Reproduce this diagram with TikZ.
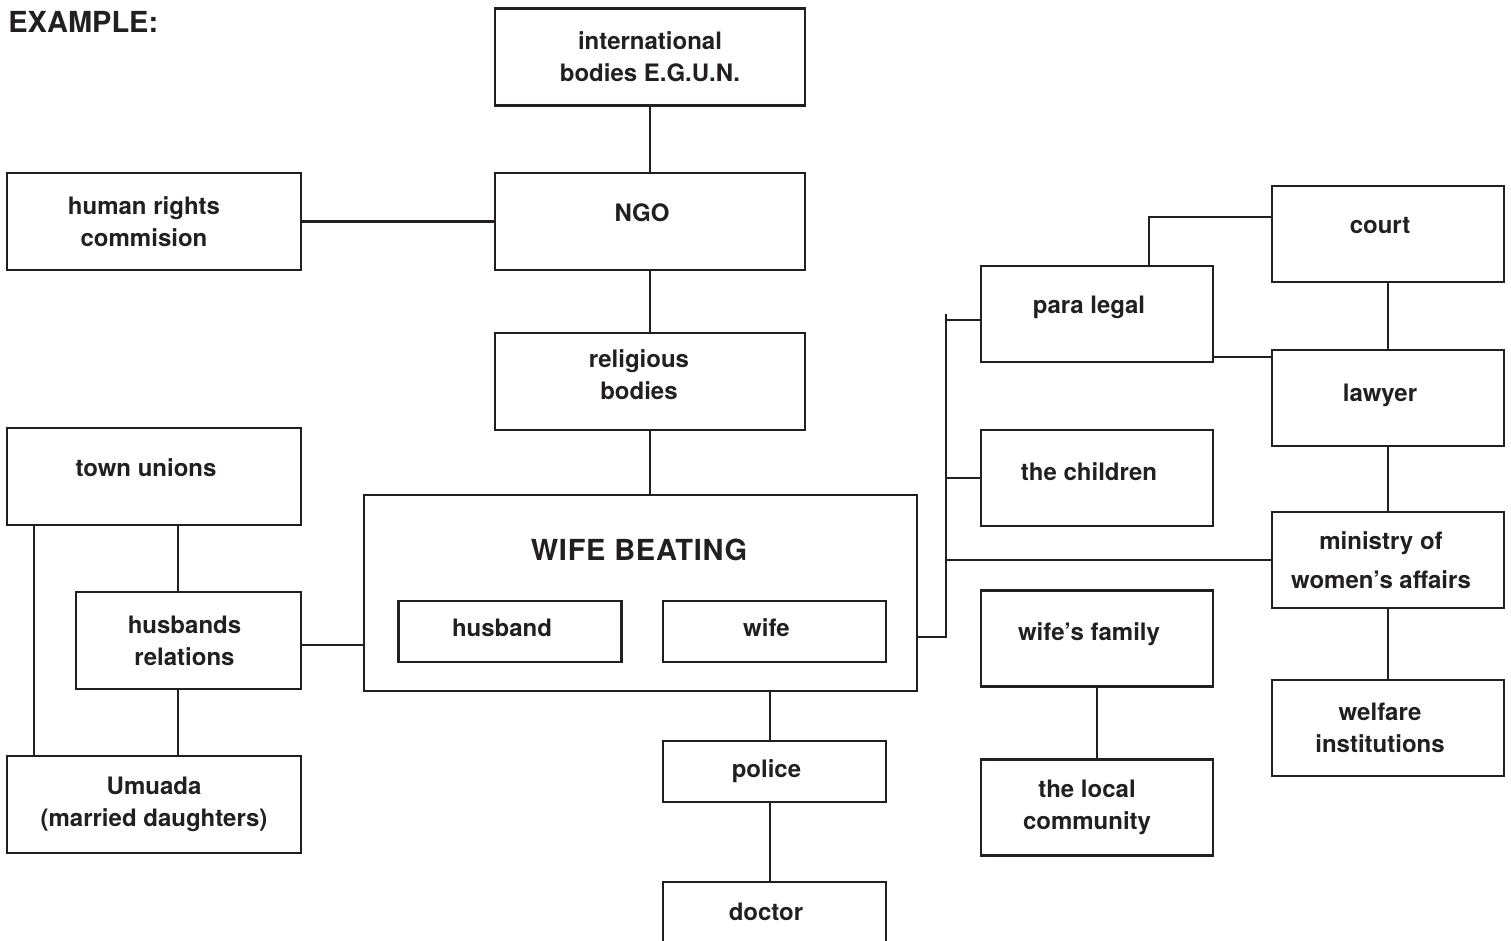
\documentclass[tikz,border=0pt]{standalone}
\usepackage{fontspec}
\setmainfont{TeX Gyre Heros}
\newfontfamily\titlefont[LetterSpace=2.5]{TeX Gyre Heros}
\definecolor{inkgray}{RGB}{35, 31, 32}
\usepackage{tikz}
\usetikzlibrary{positioning, calc}

\begin{document}
\begin{tikzpicture}[x=0.5pt, y=-0.5pt,
    every node/.style={text=inkgray},
    box/.style={draw=inkgray, line width=1.25pt, align=center, inner sep=0pt,
      font=\fontsize{12}{16}\selectfont\bfseries},
    oneline/.style={text depth=9pt, execute at end node={\hspace*{8pt}}},
    bigbox/.style={box, minimum width=155pt, minimum height=48.5pt},
    sidebox/.style={box, minimum width=147pt, minimum height=48.5pt},
    rbox/.style={box, minimum width=116pt, minimum height=48pt},
    slimbox/.style={box, minimum width=111.5pt, minimum height=30.5pt},
    link/.style={draw=inkgray, line width=1.1pt}]
  \useasboundingbox (0,0) rectangle (1511,941);
  \node[font=\fontsize{14.5}{17}\selectfont\bfseries, anchor=base west, inner sep=0pt] (ttl) at (8,33) {EXAMPLE:};

  % Upper chain
  \node[bigbox] (intl) at (650,57) {international\\bodies E.G.U.N.};
  \node[bigbox, oneline] (ngo) at (650,221.5) {NGO};
  \node[sidebox] (hrc) at (154,221.5) {human rights\hspace*{10pt}\\commision\hspace*{10pt}};
  \node[bigbox, text depth=7pt] (relig) at (650,381.5) {religious\hspace*{11pt}\\bodies\hspace*{11pt}};

  % Left family group
  \node[sidebox, oneline] (town) at (154,476.5) {town unions};
  \node[box, minimum width=112.5pt, minimum height=48.5pt] (husrel) at (188.5,640.5) {husbands\hspace*{4pt}\\relations\hspace*{4pt}};
  \node[sidebox] (umuada) at (154,804.5) {Umuada\\(married daughters)};

  % Centre
  \node[box, minimum width=276.5pt, minimum height=98pt] (wb) at (640.5,593) {};
  \node[font=\fontsize{14.5}{18}\selectfont\titlefont\bfseries] (wbtitle) at (639,550) {WIFE BEATING};
  \node[slimbox, oneline, text depth=4pt] (husband) at (510,631.5) {husband};
  \node[slimbox, oneline, text depth=4pt] (wife) at (774.5,631.5) {wife};
  \node[slimbox, oneline, text depth=3pt] (police) at (774.5,771.5) {police};
  \node[box, minimum width=111.5pt, minimum height=48.5pt] (doctor) at (774.5,930.5) {};
  \node[font=\fontsize{12}{16}\selectfont\bfseries] (doctortxt) at (766,912) {doctor};

  % Middle right column
  \node[rbox, oneline] (para) at (1097,314) {para legal};
  \node[rbox, oneline, text depth=6pt] (children) at (1097,478) {the children};
  \node[rbox, oneline, text depth=7pt] (wfam) at (1097,638.5) {wife's family};
  \node[rbox] (local) at (1097,807.5) {the local\hspace*{10pt}\\community\hspace*{10pt}};

  % Far right column
  \node[rbox, oneline] (court) at (1388,234) {court};
  \node[rbox, oneline, text depth=5pt] (lawyer) at (1388,398) {lawyer};
  \node[rbox] (ministry) at (1388,560) {ministry of\hspace*{7pt}\\[3.5pt]women's affairs\hspace*{7pt}};
  \node[rbox] (welfare) at (1388,728) {welfare\hspace*{8pt}\\institutions\hspace*{8pt}};

  % Connectors
  \draw[link] (intl) -- (ngo);
  \draw[link] (hrc) -- (ngo);
  \draw[link] (ngo) -- (relig);
  \draw[link] (relig.south) -- (relig.south |- wb.north);
  \draw[link] ($(town.south)+(24,0)$) -- ($(husrel.north)+(-10.5,0)$);
  \draw[link] ($(husrel.south)+(-10.5,0)$) -- ($(umuada.north)+(24,0)$);
  \draw[link] ($(town.south)+(-120,0)$) -- ($(umuada.north)+(-120,0)$);
  \draw[link] ($(husrel.east)+(0,4.5)$) -- ($(husrel.east -| wb.west)+(0,4.5)$);
  \draw[link] ($(police.north |- wb.south)+(-4.5,0)$) -- ($(police.north)+(-4.5,0)$);
  \draw[link] ($(police.south)+(-4.5,0)$) -- ($(doctor.north)+(-4.5,0)$);

  \coordinate (jn) at (946,637);
  \draw[link] ($(wb.east)+(0,44)$) -- (jn) -- (jn |- para.west) ++(0,6) -- ($(para.west)+(0,6)$);
  \draw[link] (jn |- children.west) -- (children.west);
  \draw[link] (jn |- ministry.west) -- (ministry.west);
  \draw[link] ($(para.north)+(52,0)$) |- ($(court.west)+(0,-17)$);
  \draw[link] ($(para.south east)+(0,-6)$) -- +(59,0);
  \draw[link] (court) -- (lawyer);
  \draw[link] (lawyer) -- (ministry);
  \draw[link] (ministry) -- (welfare);
  \draw[link] (wfam) -- (local);
\end{tikzpicture}
\end{document}
